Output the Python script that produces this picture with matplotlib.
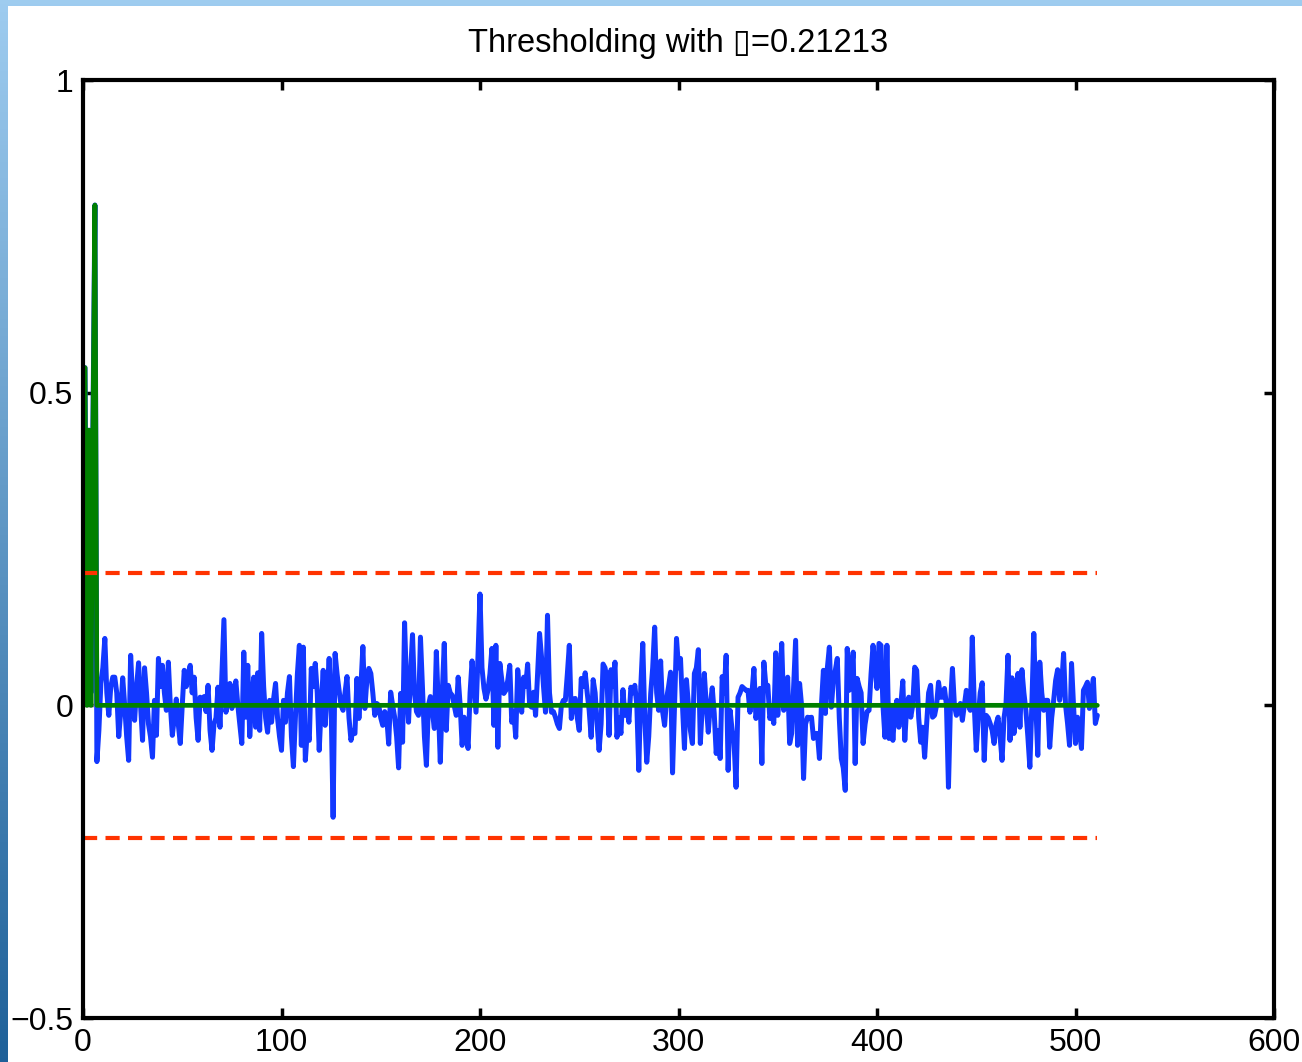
import numpy as np
import matplotlib.pyplot as plt
from matplotlib.ticker import FuncFormatter
from matplotlib.patches import Rectangle

plt.rcParams['font.family'] = ['Liberation Sans', 'DejaVu Sans']

# prag si coeficienti (zgomotosi)
thr = 0.21213
coef = np.array([
    0.54, 0.54, 0.04, 0.44, 0.02, 0.44, 0.80, -0.09, -0.04, 0.035,
    0.06, 0.107, 0.02, -0.016, 0.03, 0.045, 0.045, 0.02, -0.05, -0.01,
    0.044, 0.0, -0.05, -0.088, 0.08, 0.01, -0.024, 0.03, 0.068, 0.0,
    -0.056, 0.06, 0.02, -0.03, -0.05, -0.083, 0.008, -0.048, 0.075, 0.03,
    0.064, 0.02, -0.008, 0.069, 0.0, -0.048, -0.02, 0.01, -0.03, -0.061,
    0.0, 0.056, 0.03, 0.05, 0.064, 0.02, 0.045, -0.02, -0.056, 0.013,
    0.0, 0.014, -0.01, 0.032, -0.04, -0.072, -0.03, -0.02, 0.029, -0.035,
    0.05, 0.137, -0.011, 0.01, 0.035, -0.005, 0.02, 0.039, 0.0, -0.03,
    -0.061, 0.085, -0.019, 0.064, -0.05, 0.01, 0.045, -0.035, 0.052, -0.04,
    0.115, 0.03, -0.02, -0.043, 0.008, -0.027, 0.01, 0.035, -0.02, -0.05,
    -0.072, 0.008, -0.027, 0.02, 0.046, -0.05, -0.098, -0.02, 0.05, 0.096,
    -0.064, 0.093, -0.088, -0.04, -0.056, 0.059, 0.03, 0.067, 0.02, -0.072,
    0.0, 0.056, -0.032, 0.02, 0.075, 0.0, -0.179, 0.083, 0.05, 0.024,
    0.0, -0.008, 0.02, 0.046, -0.02, -0.056, -0.04, -0.045, 0.043, -0.021,
    0.03, 0.094, -0.005, 0.04, 0.059, 0.051, 0.02, -0.016, 0.003, 0.0,
    -0.02, -0.032, -0.01, -0.019, -0.062, 0.021, 0.0, -0.019, -0.05, -0.1,
    0.019, -0.059, 0.132, 0.03, -0.027, 0.05, 0.113, 0.02, -0.01, -0.016,
    0.109, 0.03, -0.05, -0.096, 0.0, 0.014, -0.01, -0.037, 0.086, 0.0,
    -0.091, 0.02, 0.099, -0.04, 0.032, 0.02, 0.016, 0.0, -0.016, 0.045,
    0.0, -0.064, -0.019, -0.04, -0.069, 0.02, 0.071, 0.03, -0.011, 0.08,
    0.178, 0.06, 0.027, 0.01, 0.024, 0.05, 0.091, -0.032, 0.096, -0.067,
    0.067, 0.04, 0.019, 0.024, 0.04, 0.064, -0.027, -0.01, -0.051, 0.057,
    0.02, -0.011, 0.045, 0.03, 0.066, 0.0, -0.003, 0.021, -0.016, 0.05,
    0.115, 0.077, 0.03, -0.011, 0.144, 0.02, -0.011, -0.01, -0.019, -0.03,
    -0.037, 0.0, 0.008, 0.008, 0.05, 0.096, -0.021, 0.01, 0.011, -0.02,
    -0.04, 0.043, 0.03, 0.052, 0.02, -0.008, -0.051, 0.041, 0.02, -0.03,
    -0.072, -0.03, 0.066, 0.06, 0.04, -0.048, 0.057, 0.03, 0.069, -0.051,
    -0.02, -0.045, 0.025, -0.016, 0.0, -0.027, 0.029, 0.02, 0.032, 0.0,
    -0.104, 0.03, 0.099, -0.02, -0.091, -0.05, 0.019, 0.06, 0.125, 0.02,
    -0.008, 0.071, -0.01, -0.032, 0.011, 0.03, 0.053, -0.108, 0.0, 0.107,
    0.06, 0.075, 0.0, -0.069, 0.041, 0.0, -0.04, -0.061, 0.051, 0.06,
    0.089, -0.061, 0.0, 0.051, 0.0, -0.043, 0.0, 0.028, -0.013, -0.077,
    -0.04, -0.085, 0.046, 0.02, 0.08, -0.104, -0.008, -0.04, -0.06, -0.131,
    0.013, 0.02, 0.03, 0.027, 0.024, 0.024, -0.011, 0.02, 0.059, -0.021,
    0.0, 0.027, -0.093, 0.069, 0.032, 0.032, -0.021, -0.01, -0.029, 0.084,
    -0.016, 0.03, 0.099, -0.008, 0.02, 0.045, -0.061, -0.045, 0.03, 0.104,
    -0.064, 0.035, 0.0, -0.117, -0.03, -0.019, -0.02, -0.019, -0.053, -0.045,
    -0.045, -0.085, 0.0, 0.056, -0.013, 0.06, 0.093, -0.003, 0.04, 0.056,
    0.075, -0.02, -0.085, -0.1, -0.136, 0.091, 0.024, 0.05, 0.085, -0.093,
    0.043, 0.03, 0.02, -0.061, -0.03, -0.01, -0.008, 0.05, 0.096, 0.06,
    0.027, 0.099, 0.096, 0.0, -0.051, 0.096, -0.053, 0.0, -0.056, -0.008,
    0.008, -0.035, 0.0, 0.039, -0.056, 0.0, 0.013, -0.019, 0.0, 0.061,
    0.056, -0.02, -0.059, -0.035, -0.083, -0.03, 0.02, 0.032, -0.019, -0.016,
    0.0, 0.037, 0.013, 0.013, 0.027, 0.0, -0.131, 0.0, 0.059, 0.0,
    -0.016, -0.01, 0.003, -0.024, 0.0, 0.024, 0.0, -0.008, 0.109, 0.0,
    -0.072, -0.02, 0.02, 0.036, -0.088, -0.016, -0.02, -0.029, -0.04, -0.061,
    -0.03, -0.019, -0.05, -0.088, -0.02, 0.003, 0.08, -0.056, 0.044, -0.045,
    0.0, 0.051, -0.035, 0.057, 0.02, -0.008, -0.05, -0.099, 0.0, 0.115,
    0.0, -0.08, 0.069, 0.02, -0.008, 0.008, 0.008, -0.067, -0.02, 0.008,
    0.04, 0.057, 0.008, 0.03, 0.083, 0.0, -0.029, -0.064, 0.067, 0.0,
    -0.061, -0.019, -0.04, -0.069, 0.024, 0.03, 0.037, -0.005, 0.02, 0.043,
    -0.029, -0.016,
])
x = np.arange(len(coef))

# hard thresholding
coef_thr = np.where(np.abs(coef) > thr, coef, 0.0)

xticks = [0, 100, 200, 300, 400, 500, 600]
yticks = [-0.5, 0, 0.5, 1]

W, H = 1302, 1062
fig = plt.figure(figsize=(W / 100, H / 100), dpi=100)

# fundalul albastru din spatele ferestrei
bg = fig.add_axes([0, 0, 1, 1], zorder=-2)
bg.axis('off')
t = np.linspace(0, 1, 256)[:, None, None]
top_col = np.array([0.62, 0.80, 0.94])
bot_col = np.array([0.12, 0.38, 0.60])
img = top_col * (1 - t) + bot_col * t
img = np.repeat(img, 4, axis=1)
bg.imshow(img, aspect='auto', extent=[0, 1, 0, 1])
bg.add_patch(Rectangle((8 / W, 0), 1, 1 - 6 / H, facecolor='white', edgecolor='none'))
bg.set_xlim(0, 1)
bg.set_ylim(0, 1)

ax = fig.add_axes([83 / W, 44 / H, 1191 / W, 938 / H])
ax.plot(x, coef, color='#1238ff', lw=3.6, solid_capstyle='round')
ax.plot(x, coef_thr, color='#008000', lw=3.4, solid_capstyle='round')
for s in (thr, -thr):
    ax.plot([x[0], x[-1]], [s, s], color='#ff3300', lw=3.0, dashes=(3.4, 2.0))

ax.set_xlim(0, 600)
ax.set_ylim(-0.5, 1)
ax.set_xticks(xticks)
ax.set_yticks(yticks)
ax.yaxis.set_major_formatter(FuncFormatter(lambda v, p: f'{v:g}'.replace('-', '\u2212')))
ax.tick_params(direction='in', length=7, width=2.5, top=True, right=True,
               labelsize=23, pad=7)
for sp in ax.spines.values():
    sp.set_linewidth(3)

ax.set_title('Thresholding with \u25af=0.21213', fontsize=23.5, pad=20)

fig.savefig('out.png', dpi=100)
